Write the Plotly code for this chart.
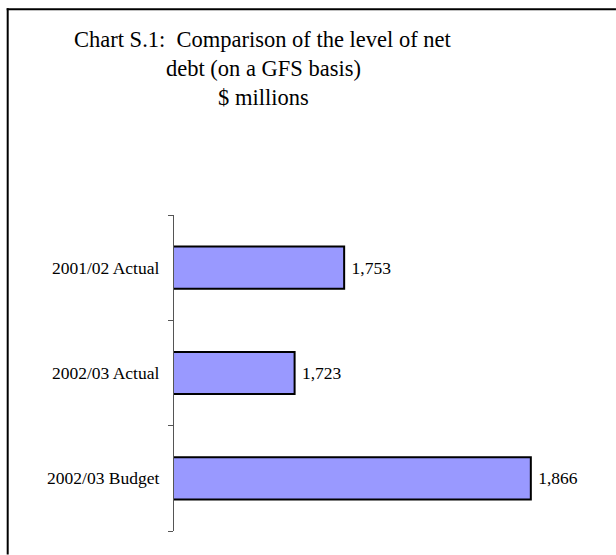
import plotly.graph_objects as go

# Net debt, $ millions
categories = ["2001/02 Actual", "2002/03 Actual", "2002/03 Budget"]
net_debt = [1753, 1723, 1866]
title_lines = [
    "Chart S.1:  Comparison of the level of net",
    "debt (on a GFS basis)",
    "$ millions",
]

SERIF = "Liberation Serif, Times New Roman, serif"

W, H = 616, 555
L, R, T, B = 173.5, 29, 215, 23.5
plot_w = W - L - R
plot_h = H - T - B


def px_x(x):
    return (x - L) / plot_w


def px_y(y):
    return 1 - (y - T) / plot_h


fig = go.Figure(
    go.Bar(
        y=categories,
        x=net_debt,
        orientation="h",
        width=0.4,
        marker=dict(color="#9999FF", line=dict(color="black", width=2)),
        texttemplate="\u00a0%{x:,.0f}",
        textposition="outside",
        textfont=dict(family=SERIF, size=17.5, color="black"),
        cliponaxis=False,
    )
)

# Frame around the chart (left and top edges visible)
fig.add_shape(type="line", xref="paper", yref="paper",
              x0=px_x(6), x1=px_x(W), y0=px_y(9), y1=px_y(9),
              line=dict(color="black", width=2), layer="above")
fig.add_shape(type="line", xref="paper", yref="paper",
              x0=px_x(7), x1=px_x(7), y0=px_y(8), y1=px_y(H),
              line=dict(color="black", width=2), layer="above")

# Three-line heading
for i, line in enumerate(title_lines):
    fig.add_annotation(
        text=line,
        xref="paper", yref="paper",
        x=px_x(263), y=px_y(53 + 29 * i),
        xanchor="center", yanchor="bottom",
        showarrow=False,
        font=dict(family=SERIF, size=22.5, color="black"),
        borderpad=0,
    )

fig.update_layout(
    width=W, height=H,
    margin=dict(l=L, r=R, t=T, b=B, pad=0),
    paper_bgcolor="white",
    plot_bgcolor="white",
    showlegend=False,
    font=dict(family=SERIF, color="black"),
    xaxis=dict(
        range=[1650, 1900],
        visible=False,
        showgrid=False,
        zeroline=False,
    ),
    yaxis=dict(
        categoryorder="array",
        categoryarray=categories[::-1],
        showline=True,
        linecolor="#555555",
        linewidth=1.3,
        ticks="outside",
        tickson="boundaries",
        ticklen=5,
        tickwidth=1.3,
        tickcolor="#555555",
        showgrid=False,
        zeroline=False,
        ticklabelstandoff=10,
        tickfont=dict(family=SERIF, size=17.5, color="black"),
    ),
)

fig.write_html("out.html")
